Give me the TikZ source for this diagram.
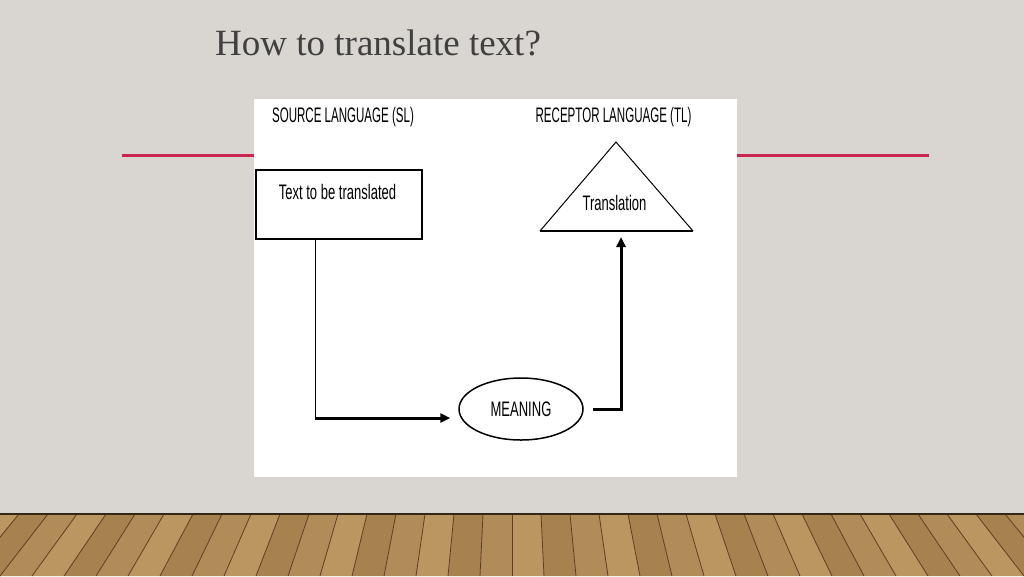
\documentclass[tikz,border=0pt]{standalone}
\usepackage{fontspec}
\setmainfont{Liberation Serif}
\newfontfamily\diagfont{Liberation Sans}[FakeStretch=0.62]
\newfontfamily\headfont{Liberation Sans}[FakeStretch=0.55]
\usetikzlibrary{arrows.meta,positioning,shapes.geometric,calc}

\definecolor{wallmid}{HTML}{E5E2DE}
\definecolor{walledge}{HTML}{D9D6D1}
\definecolor{slidered}{HTML}{C8264F}
\definecolor{titlegray}{HTML}{404040}
\definecolor{plankA}{HTML}{B08C58}
\definecolor{plankB}{HTML}{BA9661}
\definecolor{plankC}{HTML}{A6824F}
\definecolor{plankline}{HTML}{5A3F22}

\tikzset{
	diagtext/.style={inner sep=0pt, font=\diagfont\fontsize{21}{24}\selectfont},
	headtext/.style={inner sep=0pt, font=\headfont\fontsize{21}{24}\selectfont},
	flow/.style={line width=3pt, -{Triangle[length=10pt,width=9pt]}},
}

\begin{document}
\begin{tikzpicture}[x=1pt, y=-1pt]
	\useasboundingbox (0,0) rectangle (1024,576);

	% wall and floor
	\shade[left color=walledge, middle color=wallmid, right color=walledge] (0,0) rectangle (1024,514);
	\foreach \k in {-19,...,18} {
		\pgfmathtruncatemacro{\shadeno}{mod(\k+19,3)}
		\ifcase\shadeno \def\plank{plankA}\or \def\plank{plankB}\else \def\plank{plankC}\fi
		\fill[\plank] ({512+29*\k},514) -- ({512+29*(\k+1)},514) -- ({512+32*(\k+1)},576) -- ({512+32*\k},576) -- cycle;
		\draw[plankline, line width=0.8pt] ({512+29*\k},514) -- ({512+32*\k},576);
	}
	\fill[plankline!60!black] (0,512.5) rectangle (1024,515);

	\node[anchor=base west, inner sep=0pt, text=titlegray, font=\fontsize{37}{40}\selectfont] (title) at (215,55) {How to translate text?};

	\draw[slidered, line width=3pt] (122,155) -- (929,155);
	\fill[white] (254,99) rectangle (737,477);

	% source side
	\node[headtext] (slhead) at (343,117) {SOURCE LANGUAGE (SL)};
	\node[draw, line width=1.5pt, minimum width=166pt, minimum height=69pt, inner sep=0pt] (srcbox) at (339,204.5) {};
	\node[diagtext] (srctext) at (337.5,192) {Text to be translated};

	% receptor side
	\node[headtext] (tlhead) at (613.5,117) {RECEPTOR LANGUAGE (TL)};
	\coordinate (apex) at (616,142);
	\coordinate (baseleft) at (540,231);
	\coordinate (baseright) at (693,231);
	\draw[line width=1pt] (baseleft) -- (apex) -- (baseright);
	\draw[line width=2pt] (baseleft) -- (baseright);
	\node[diagtext] (tgttext) at (614.5,203) {Translation};
	\coordinate (tgtbase) at (621,237);

	\node[draw, ellipse, line width=1.5pt, minimum width=124pt, minimum height=62pt, inner sep=0pt, diagtext] (meaning) at (521,409) {MEANING};

	% connectors
	\coordinate (corner) at (315,418);
	\draw[line width=1pt] ([xshift=-24pt]srcbox.south) -- (corner);
	\draw[flow, shorten >=8pt] (corner) -- (corner -| meaning.west);
	\draw[flow] ([xshift=9pt]meaning.east) -| (tgtbase);

\end{tikzpicture}
\end{document}
